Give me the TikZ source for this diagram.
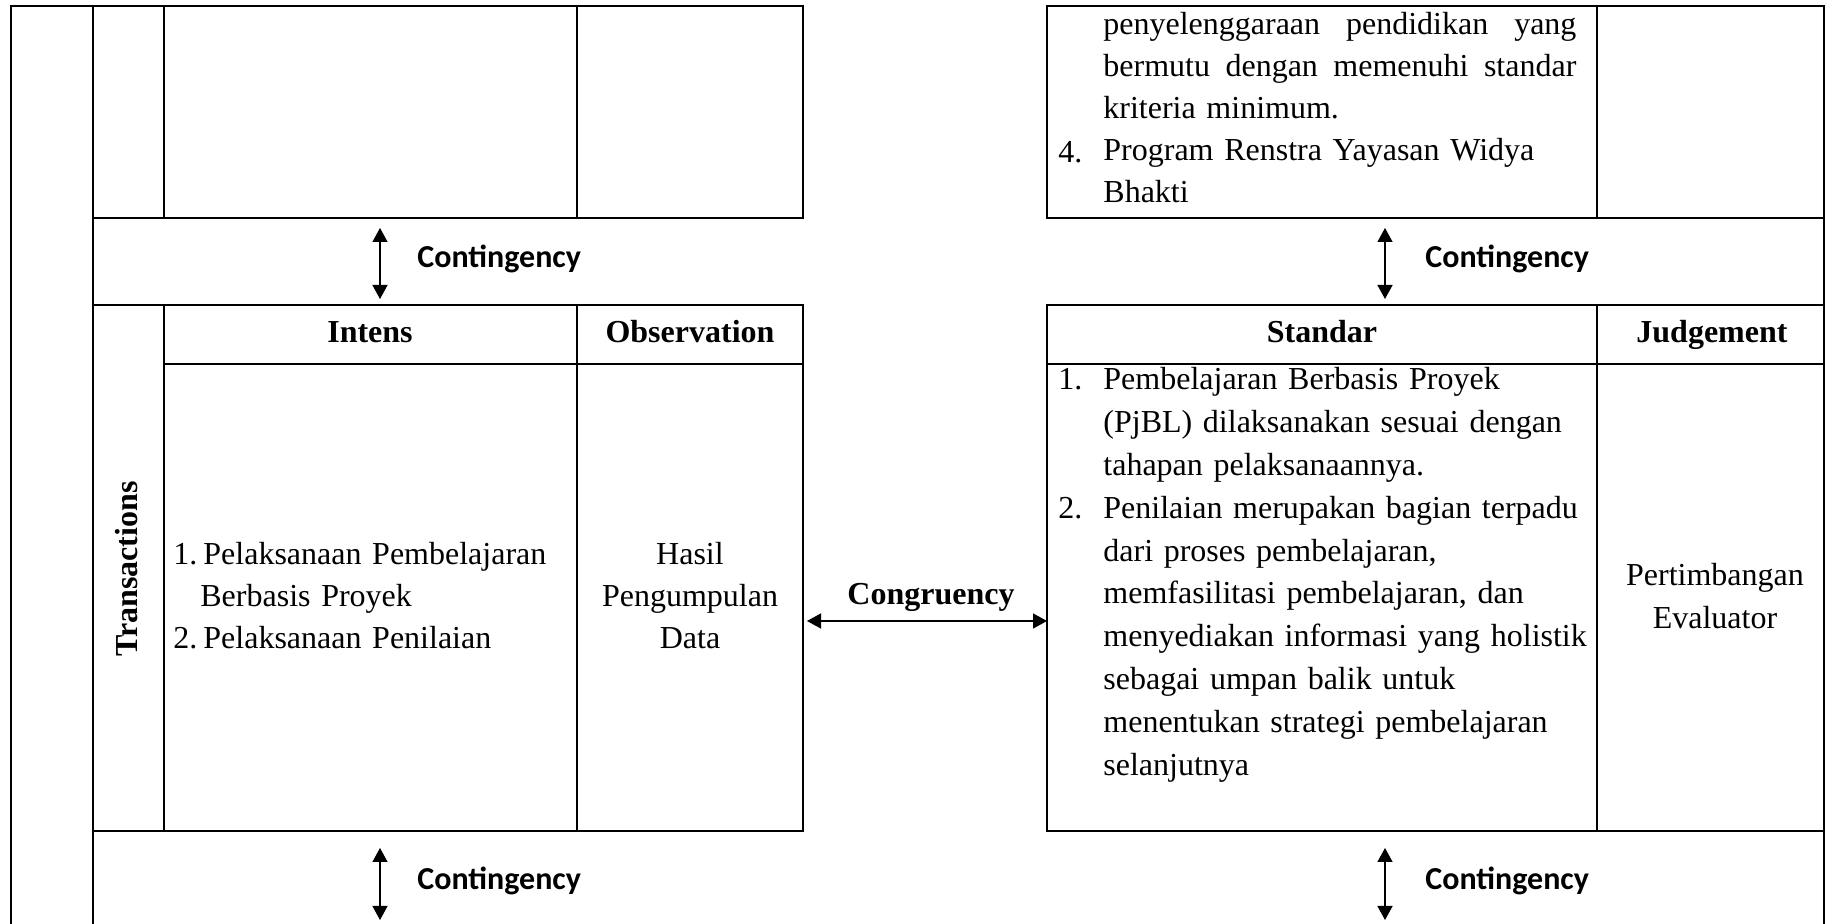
\documentclass[tikz,border=0pt]{standalone}
\usepackage{fontspec}
\setmainfont{Liberation Serif}
\newfontfamily\contfamily{Carlito}
\usetikzlibrary{arrows.meta}
\newcommand\cellfont{\fontsize{16}{20.9}\selectfont}
\newcommand\listfont{\fontsize{16}{21.4}\selectfont}
\newcommand\contfont{\contfamily\bfseries\fontsize{16}{19}\selectfont}
\newcommand\fullline[1]{\leavevmode\hbox to 236.5pt{#1}}
\tikzset{
    >={Triangle[length=7pt,width=7.5pt]},
    block/.style={draw, rectangle, line width=1.2pt, inner sep=0pt, outer sep=0pt, anchor=north west},
    rule/.style={line width=1.2pt},
    link/.style={<->, line width=0.7pt},
    head/.style={font=\cellfont\bfseries, anchor=base, inner sep=0pt},
    cont/.style={font=\contfont, anchor=base west, inner sep=0pt},
    body/.style={font=\cellfont, anchor=base west, inner sep=0pt, align=left, text width=260pt},
}

\begin{document}
\begin{tikzpicture}[x=0.5pt,y=-0.5pt]
    \useasboundingbox (0,0) rectangle (1828,924);

    % blocks
    \node[block, minimum width=355pt, minimum height=106pt] (antL) at (93,6) {};
    \node[block, minimum width=388.5pt, minimum height=106pt] (antR) at (1047,6) {};
    \node[block, minimum width=355pt, minimum height=263pt] (trL) at (93,305) {};
    \node[block, minimum width=388.5pt, minimum height=263pt] (trR) at (1047,305) {};

    \draw[rule] (11,924) -- (11,6) -- (93,6);
    \draw[rule] (93,6) -- (93,924);
    \draw[rule] (1824,6) -- (1824,924);
    \draw[rule] (164,6) -- (164,218) (577,6) -- (577,218);
    \draw[rule] (164,305) -- (164,831) (577,305) -- (577,831) (164,364) -- (803,364);
    \draw[rule] (1597,6) -- (1597,218) (1597,305) -- (1597,831) (1047,364) -- (1824,364);

    % headers
    \node[head, anchor=center, rotate=90] (trans) at (127,569) {Transactions};
    \node[head] (intens) at (370,343) {Intens};
    \node[head] (obs) at (690,343) {Observation};
    \node[head] (std) at (1322,343) {Standar};
    \node[head] (judg) at (1712,343) {Judgement};

    % top right cell
    \node[body] (antTxt) at (1103,35) {\fullline{penyelenggaraan\hfill pendidikan\hfill yang}\\
        \fullline{bermutu\hfill dengan\hfill memenuhi\hfill standar}\\
        kriteria minimum.\\
        Program Renstra Yayasan Widya\\
        Bhakti};
    \node[body, text width=] (num4) at (1058,162.5) {4.};

    % left cells
    \node[body, text width=] (num1L) at (173,565) {1.};
    \node[body] (intTxt1) at (203,565) {Pelaksanaan Pembelajaran\\\hspace*{-1.5pt}Berbasis Proyek};
    \node[body, text width=] (num2L) at (173,649) {2.};
    \node[body] (intTxt2) at (203,649) {Pelaksanaan Penilaian};
    \node[body, anchor=base, text width=110pt, align=center] (obsTxt) at (690,565) {Hasil\\Pengumpulan\\Data};

    % right cells
    \node[body, font=\listfont] (stdTxt) at (1103,390) {Pembelajaran Berbasis Proyek\\
        (PjBL) dilaksanakan sesuai dengan\\
        tahapan pelaksanaannya.\\
        Penilaian merupakan bagian terpadu\\
        dari proses pembelajaran,\\
        memfasilitasi pembelajaran, dan\\
        menyediakan informasi yang holistik\\
        sebagai umpan balik untuk\\
        menentukan strategi pembelajaran\\
        selanjutnya};
    \node[body, text width=] (num1R) at (1058,390) {1.};
    \node[body, text width=] (num2R) at (1058,518.4) {2.};
    \node[body, anchor=base, text width=110pt, align=center, font=\fontsize{16}{21.5}\selectfont] (judgTxt) at (1715,586) {Pertimbangan\\Evaluator};

    % connectors
    \coordinate (kL) at (380,0);
    \coordinate (kR) at (1385,0);
    \coordinate (cg) at (0,621);
    \coordinate (endL) at (380,920);
    \coordinate (endR) at (1385,920);

    \draw[link, shorten <=5pt, shorten >=3pt] (antL.south -| kL) -- (trL.north -| kL);
    \draw[link, shorten <=5pt, shorten >=3pt] (antR.south -| kR) -- (trR.north -| kR);
    \draw[link, shorten <=8.5pt] (trL.south -| kL) -- (endL);
    \draw[link, shorten <=8.5pt] (trR.south -| kR) -- (endR);
    \draw[link, shorten <=2pt] (trL.east |- cg) -- (trR.west |- cg);

    \node[cont] (cTL) at (417,268) {Contingency};
    \node[cont] (cTR) at (1425,268) {Contingency};
    \node[cont] (cBL) at (417,890) {Contingency};
    \node[cont] (cBR) at (1425,890) {Contingency};
    \node[head] (cong) at (931,605) {Congruency};
\end{tikzpicture}
\end{document}
